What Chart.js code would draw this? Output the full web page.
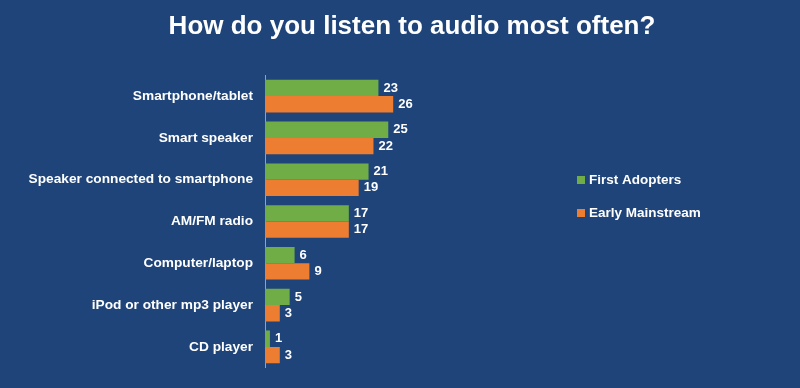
<!DOCTYPE html>
<html>
<head>
<meta charset="utf-8">
<script src="https://cdn.jsdelivr.net/npm/chart.js@4/dist/chart.umd.min.js"></script>
<style>
  html, body { margin: 0; padding: 0; background: #1F4479; }
  #wrap { width: 800px; height: 388px; position: relative; }
</style>
</head>
<body>
<div id="wrap"><canvas id="audio-chart"></canvas></div>
<script>
// data
const categories = ['Smartphone/tablet', 'Smart speaker', 'Speaker connected to smartphone',
  'AM/FM radio', 'Computer/laptop', 'iPod or other mp3 player', 'CD player'];
const firstAdopters = [23, 25, 21, 17, 6, 5, 1];
const earlyMainstream = [26, 22, 19, 17, 9, 3, 3];

const FONT = '"Liberation Sans", Arial, sans-serif';
Chart.defaults.font.family = FONT;
Chart.defaults.color = '#ffffff';

// value labels at bar ends
const barValues = {
  id: 'barValues',
  afterDatasetsDraw(chart) {
    const ctx = chart.ctx;
    ctx.save();
    ctx.font = 'bold 13px ' + FONT;
    ctx.fillStyle = '#ffffff';
    ctx.textBaseline = 'middle';
    chart.data.datasets.forEach((ds, i) => {
      chart.getDatasetMeta(i).data.forEach((bar, j) => {
        ctx.fillText(ds.data[j], bar.x + 5, bar.y);
      });
    });
    ctx.restore();
  }
};

// legend drawn to the right of the bars
const sideLegend = {
  id: 'sideLegend',
  afterDraw(chart) {
    const ctx = chart.ctx;
    ctx.save();
    ctx.font = 'bold 13.5px ' + FONT;
    ctx.textBaseline = 'middle';
    chart.data.datasets.forEach((ds, i) => {
      const y = 180 + i * 33;
      ctx.fillStyle = ds.backgroundColor;
      ctx.fillRect(577, y - 4, 8, 8);
      ctx.fillStyle = '#ffffff';
      ctx.fillText(ds.label, 589, y);
    });
    ctx.restore();
  }
};

const config = {
  type: 'bar',
  data: {
    labels: categories,
    datasets: [
      { label: 'First Adopters', data: firstAdopters, backgroundColor: '#70AD47' },
      { label: 'Early Mainstream', data: earlyMainstream, backgroundColor: '#ED7D31' }
    ]
  },
  options: {
    indexAxis: 'y',
    responsive: false,
    animation: false,
    layout: { padding: { top: 0, right: 0, bottom: 17, left: 24 } },
    datasets: { bar: { barPercentage: 1, categoryPercentage: 0.78 } },
    scales: {
      x: { display: false, min: 0, max: 108.5 },
      y: {
        afterFit(scale) { scale.width = 241; },
        grid: { display: false, drawTicks: false },
        border: { display: true, color: '#8EA2C4', width: 1 },
        ticks: { color: '#ffffff', font: { size: 13.7, weight: 'bold' }, padding: 12 }
      }
    },
    plugins: {
      title: {
        display: true,
        text: 'How do you listen to audio most often?',
        color: '#ffffff',
        font: { size: 26, weight: 'bold' },
        padding: { top: 11, bottom: 33 }
      },
      legend: { display: false },
      tooltip: { enabled: false }
    }
  },
  plugins: [barValues, sideLegend]
};

const canvas = document.getElementById('audio-chart');
canvas.width = 800;
canvas.height = 388;
new Chart(canvas, config);
</script>
</body>
</html>
